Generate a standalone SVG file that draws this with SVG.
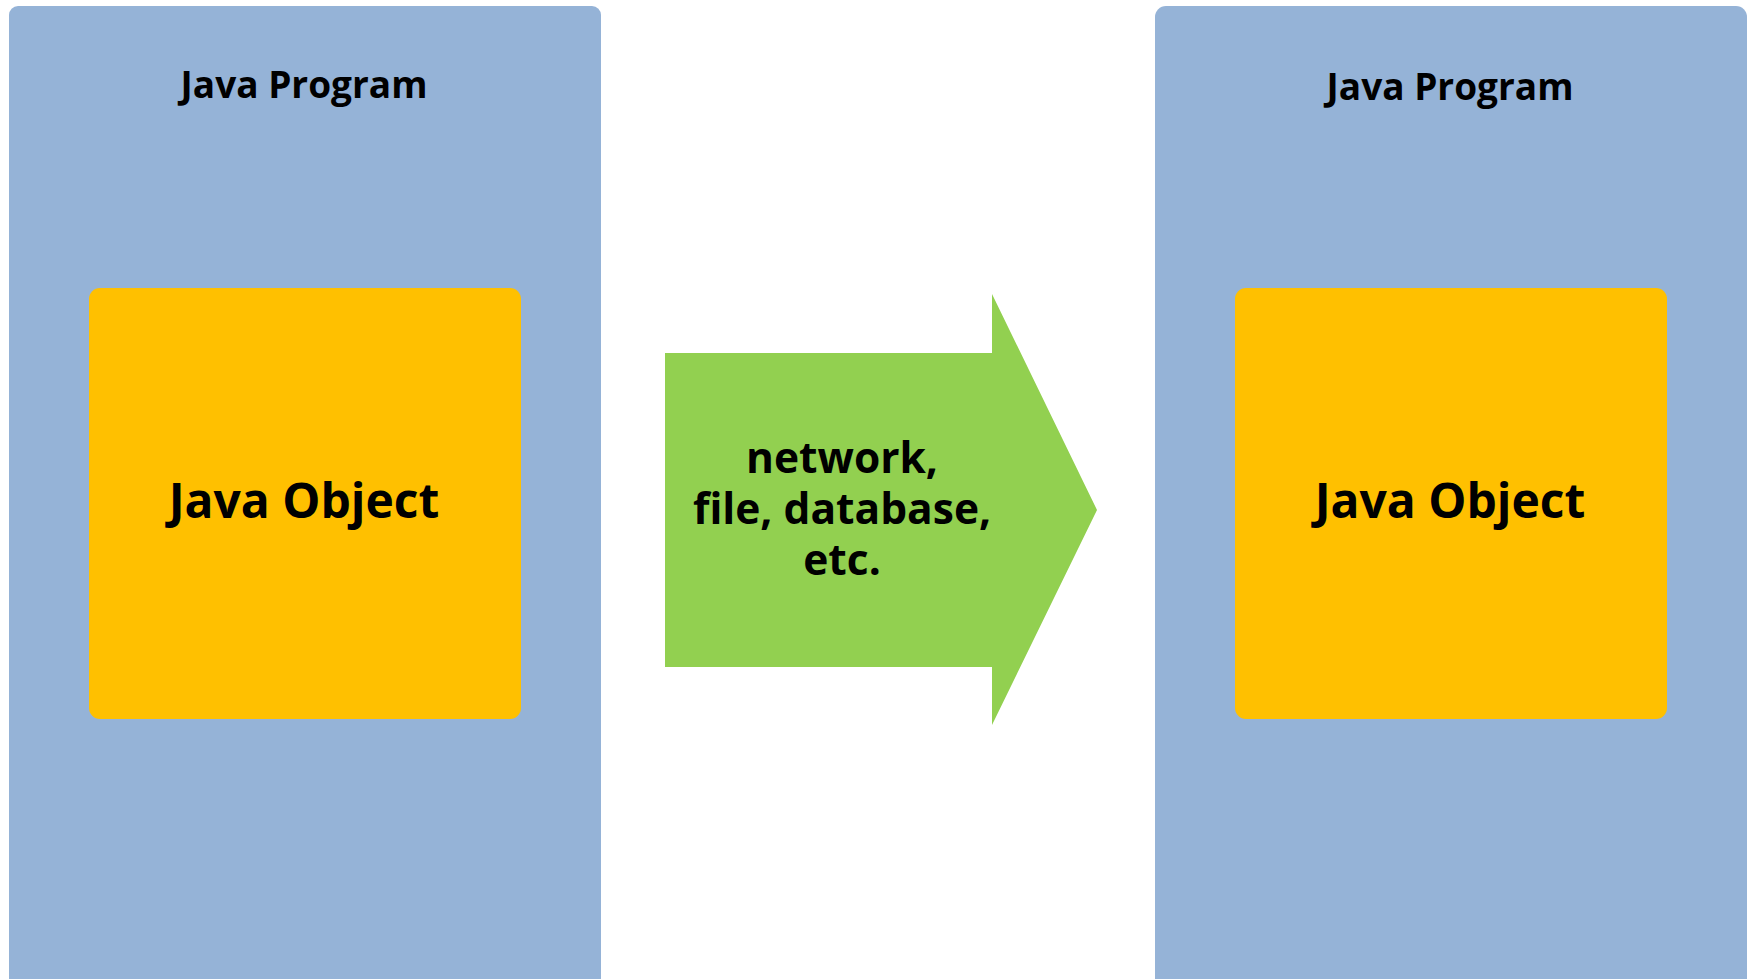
<svg xmlns="http://www.w3.org/2000/svg" width="1750" height="979" viewBox="0 0 1750 979">
  <style>
    .program { fill: #95B3D7; }
    .object { fill: #FFC000; }
    .channel { fill: #92D050; }
    text { font-family: "Open Sans", "DejaVu Sans", sans-serif; font-weight: bold; fill: #000; text-anchor: middle; }
    .title { font-size: 37px; }
    .obj-label { font-size: 48px; }
    .chan-label { font-size: 42.5px; }
  </style>
  <rect width="1750" height="979" fill="#FFFFFF"/>

  <!-- sending program -->
  <g id="program-left">
    <rect class="program" x="9" y="6" width="592" height="985" rx="9"/>
    <text class="title" x="304" y="98">Java Program</text>
  </g>
  <g id="object-left">
    <rect class="object" x="89" y="288" width="432" height="431" rx="11"/>
    <text class="obj-label" x="304" y="518">Java Object</text>
  </g>

  <!-- receiving program -->
  <g id="program-right">
    <rect class="program" x="1155" y="6" width="592" height="985" rx="11"/>
    <text class="title" x="1450" y="100">Java Program</text>
  </g>
  <g id="object-right">
    <rect class="object" x="1235" y="288" width="432" height="431" rx="11"/>
    <text class="obj-label" x="1450" y="518">Java Object</text>
  </g>

  <!-- transfer channel -->
  <g id="connectors">
    <g id="channel">
      <polygon class="channel" points="665,353 992,353 992,294 1097,510 992,725 992,667 665,667"/>
      <text class="chan-label" x="842" y="473">network,</text>
      <text class="chan-label" x="842" y="524">file, database,</text>
      <text class="chan-label" x="842" y="575">etc.</text>
    </g>
  </g>
</svg>
